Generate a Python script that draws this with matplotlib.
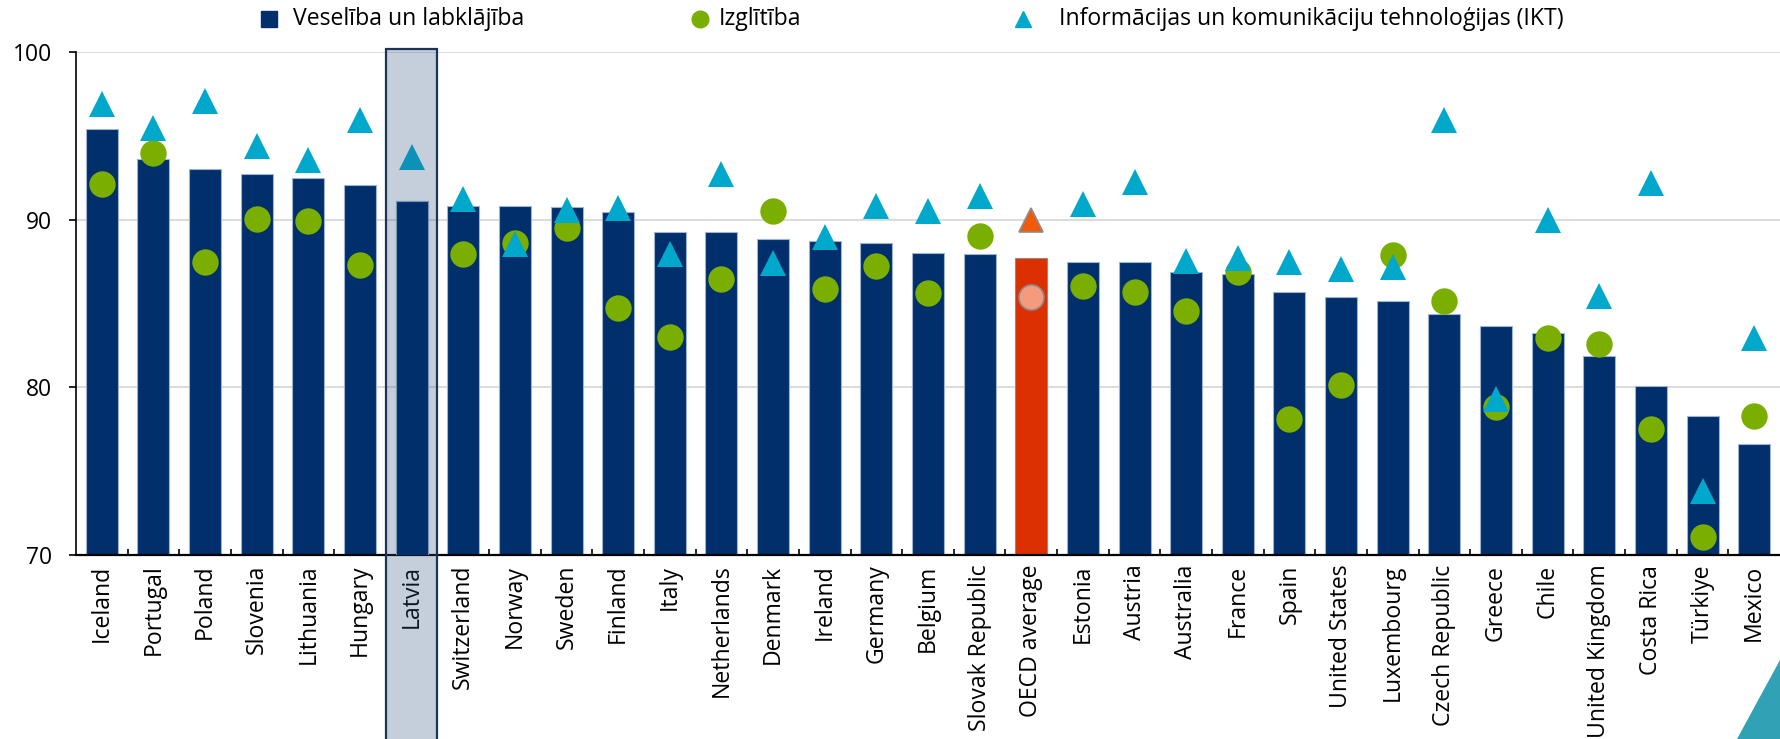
import matplotlib
matplotlib.use("Agg")
import matplotlib.pyplot as plt
import matplotlib.transforms as mtransforms
from matplotlib.lines import Line2D
from matplotlib.patches import Rectangle, Polygon
import numpy as np

plt.rcParams['font.family'] = ['Open Sans', 'DejaVu Sans']

countries = ["Iceland", "Portugal", "Poland", "Slovenia", "Lithuania", "Hungary",
             "Latvia", "Switzerland", "Norway", "Sweden", "Finland", "Italy",
             "Netherlands", "Denmark", "Ireland", "Germany", "Belgium",
             "Slovak Republic", "OECD average", "Estonia", "Austria", "Australia",
             "France", "Spain", "United States", "Luxembourg", "Czech Republic",
             "Greece", "Chile", "United Kingdom", "Costa Rica", "Türkiye", "Mexico"]

# Veselība un labklājība (bars)
health = [95.4, 93.6, 93.0, 92.7, 92.5, 92.05, 91.1, 90.8, 90.8, 90.78, 90.44,
          89.26, 89.26, 88.87, 88.73, 88.59, 87.99, 87.95, 87.73, 87.47, 87.47,
          86.9, 86.76, 85.7, 85.38, 85.12, 84.37, 83.63, 83.23, 81.88, 80.05,
          78.29, 76.59]

# Izglītība (circles)
education = [92.15, 94.0, 87.5, 90.02, 89.92, 87.29, 86.55, 87.94, 88.6, 89.48,
             84.73, 83.01, 86.48, 90.5, 85.84, 87.25, 85.62, 89.02, 85.38, 86.02,
             85.66, 84.53, 86.87, 78.1, 80.13, 87.91, 85.16, 78.85, 82.97, 82.58,
             77.52, 71.09, 78.27]

# IKT (triangles)
ict = [96.89, 95.49, 97.05, 94.37, 93.58, 95.92, 93.73, 91.25, 88.53, 90.55,
       90.69, 87.98, 92.7, 87.42, 88.97, 90.8, 90.49, 91.38, 89.96, 90.93,
       92.24, 87.55, 87.72, 87.49, 87.07, 87.18, 95.95, 79.3, 90.0, 85.44,
       92.21, 73.84, 82.92]

legend_labels = ["Veselība un labklājība", "Izglītība",
                 "Informācijas un komunikāciju tehnoloģijas (IKT)"]

navy = '#002f6c'
green = '#7aae00'
teal = '#00a9cc'

x = np.arange(len(countries))
oecd = countries.index("OECD average")
latvia = countries.index("Latvia")
others = [i for i in x if i != oecd]

fig = plt.figure(figsize=(17.8, 7.39), dpi=100)
ax = fig.add_axes([0.0427, 0.249, 0.9573, 0.6807])

bar_colors = [navy] * len(countries)
bar_colors[oecd] = '#dc2f02'
edge_colors = ['#9fb3d1'] * len(countries)
edge_colors[oecd] = '#8c8c8c'
ax.bar(x, health, width=0.62, color=bar_colors, edgecolor=edge_colors,
       linewidth=0.8, zorder=2)

ax.plot(x[others], np.array(education)[others], 'o', color=green, ms=19,
        markeredgewidth=0, zorder=3, clip_on=False)
ax.plot(x[others], np.array(ict)[others], '^', color=teal, ms=18.5,
        markeredgewidth=0, zorder=4, clip_on=False)
ax.plot([oecd], [education[oecd]], 'o', color='#f59a7d', ms=18,
        markeredgecolor='#8c8c8c', markeredgewidth=1.2, zorder=3)
ax.plot([oecd], [ict[oecd]], '^', color='#f25a0a', ms=17.5,
        markeredgecolor='#8c8c8c', markeredgewidth=1.2, zorder=4)

ax.set_xlim(-0.5, len(countries) - 0.5)
ax.set_ylim(70, 100)
ax.set_yticks([70, 80, 90, 100])
ax.set_xticks(x)
ax.set_xticklabels(countries, rotation=90, va='top', ha='center')
ax.set_xticks(np.arange(0.5, len(countries) - 1, 1), minor=True)

ax.yaxis.grid(True, color='#d9d9d9', linewidth=1.3, zorder=0)
ax.set_axisbelow(True)
for s in ['top', 'right']:
    ax.spines[s].set_visible(False)
ax.spines['left'].set_linewidth(1.2)
ax.spines['bottom'].set_linewidth(1.6)

ax.tick_params(axis='y', labelsize=16.5, length=5, width=1.2, pad=12)
ax.tick_params(axis='x', which='major', length=0, pad=7, labelsize=16.6)
ax.tick_params(axis='x', which='minor', direction='in', length=4, width=1.2)

# Latvia highlight: translucent band on top, Latvia bar redrawn above it
trans = mtransforms.blended_transform_factory(ax.transData, ax.transAxes)
ax.add_patch(Rectangle((latvia - 0.5, -0.45), 1.0, 1.4553,
                       transform=trans, facecolor=(50/255, 86/255, 129/255),
                       alpha=0.28, edgecolor='none', zorder=6, clip_on=False))
ax.bar([latvia], [health[latvia]], width=0.62, color=navy,
       edgecolor='#7f93b3', linewidth=0.8, zorder=7)
ax.add_patch(Rectangle((latvia - 0.5, -0.45), 1.0, 1.4553,
                       transform=trans, facecolor='none', edgecolor='#1b3358',
                       linewidth=1.6, zorder=8, clip_on=False))

# legend
ly = 0.974
fig.add_artist(Line2D([0.151], [ly], marker='s', color=navy, ms=11,
                      linestyle='none', transform=fig.transFigure))
fig.text(0.1645, ly, legend_labels[0], fontsize=16.6, va='center')
fig.add_artist(Line2D([0.393], [ly], marker='o', color=green, ms=12,
                      linestyle='none', transform=fig.transFigure))
fig.text(0.404, ly, legend_labels[1], fontsize=16.6, va='center')
fig.add_artist(Line2D([0.575], [ly], marker='^', color=teal, ms=11,
                      linestyle='none', transform=fig.transFigure))
fig.text(0.595, ly, legend_labels[2], fontsize=16.6, va='center')

# corner decoration
fig.add_artist(Polygon([(0.976, 0), (1.0, 0), (1.0, 0.107)], closed=True,
                       transform=fig.transFigure, facecolor='#31a2b6',
                       edgecolor='none'))

fig.savefig('out.png', dpi=100)
